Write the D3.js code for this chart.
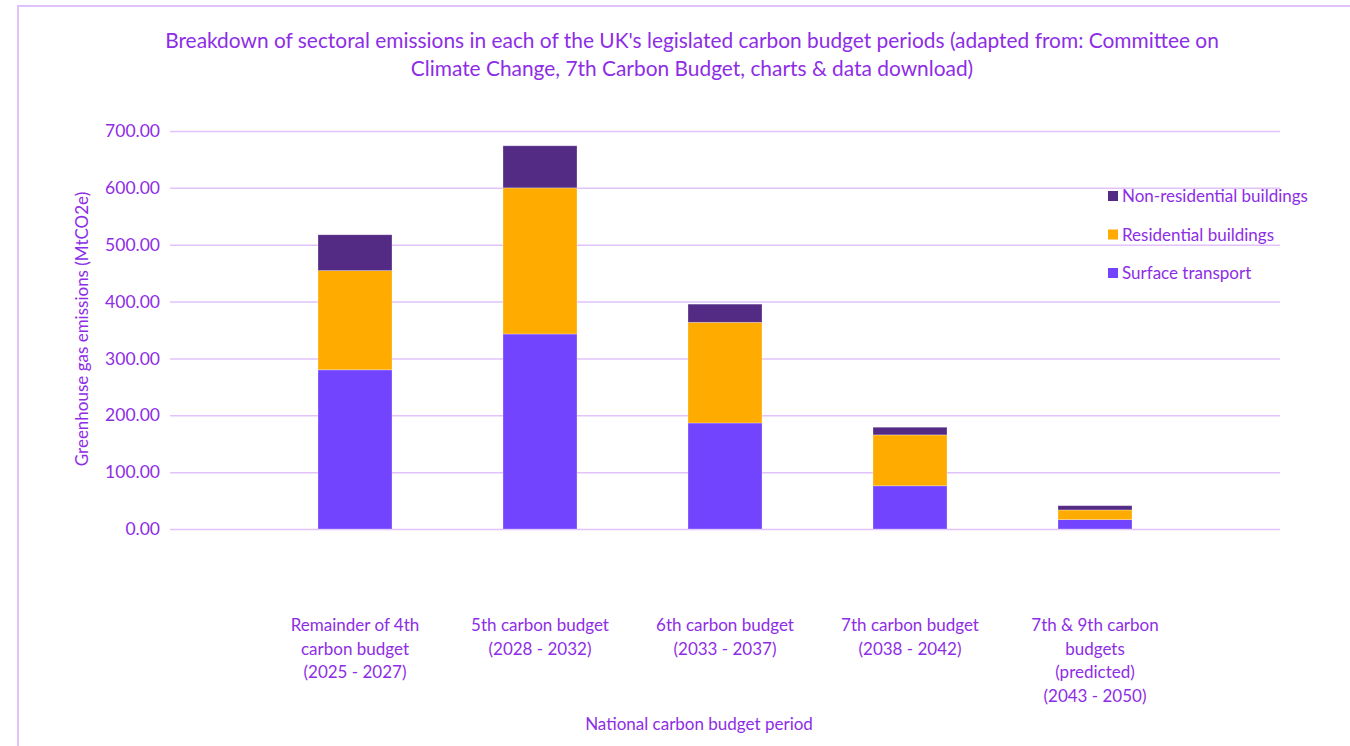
<!DOCTYPE html>
<html>
<head>
<meta charset="utf-8">
<script src="https://cdn.jsdelivr.net/npm/d3@7"></script>
<style>
  html, body { margin: 0; padding: 0; background: #ffffff; }
  svg { display: block; font-family: Lato, "Open Sans", sans-serif; }
</style>
</head>
<body>
<svg id="chart" width="1350" height="746"></svg>
<script>
// Budget periods (multi-line labels)
const periods = [
  ["Remainder of 4th", "carbon budget", "(2025 - 2027)"],
  ["5th carbon budget", "(2028 - 2032)"],
  ["6th carbon budget", "(2033 - 2037)"],
  ["7th carbon budget", "(2038 - 2042)"],
  ["7th & 9th carbon", "budgets", "(predicted)", "(2043 - 2050)"]
];
// Sector emissions per period, MtCO2e
const surfaceTransport = [280, 343, 186.5, 76, 16.5];
const residentialBuildings = [174.5, 257, 177, 89.5, 17];
const nonResidentialBuildings = [63, 74, 32, 13.5, 7.5];
const seriesNames = ["Surface transport", "Residential buildings", "Non-residential buildings"];
const yTicks = [0, 100, 200, 300, 400, 500, 600, 700];

const colors = {
  "Surface transport": "#7244fe",
  "Residential buildings": "#ffab00",
  "Non-residential buildings": "#532a84"
};
const textColor = "#8e2de6";
const gridColor = "#e1c2fb";

const svg = d3.select("#chart");

// outer frame
svg.append("path")
  .attr("d", "M18,746 V6 H1350")
  .attr("fill", "none")
  .attr("stroke", gridColor)
  .attr("stroke-width", 2);

const margin = { left: 170, right: 1280, top: 131, bottom: 529 };
const keys = periods.map((p, i) => i);

const x = d3.scalePoint().domain(keys).range([margin.left, margin.right]).padding(1);
const y = d3.scaleLinear().domain([0, 700]).range([margin.bottom, margin.top]);
const barWidth = x.step() * 0.4;

// gridlines + tick labels
const yAxis = d3.axisLeft(y).tickValues(yTicks).tickFormat(d3.format(".2f"))
  .tickSize(-(margin.right - margin.left)).tickPadding(10);
const gy = svg.append("g").attr("transform", `translate(${margin.left},0)`).call(yAxis);
gy.select(".domain").remove();
gy.selectAll(".tick line").attr("stroke", gridColor).attr("stroke-width", 1.5);
gy.selectAll(".tick text").attr("fill", textColor).attr("font-size", 17.5)
  .attr("font-family", "Lato, sans-serif");

// stacked bars
const rows = keys.map(i => ({
  i,
  "Surface transport": surfaceTransport[i],
  "Residential buildings": residentialBuildings[i],
  "Non-residential buildings": nonResidentialBuildings[i]
}));
const stacked = d3.stack().keys(seriesNames)(rows);

svg.append("g").selectAll("g").data(stacked).join("g")
  .attr("fill", d => colors[d.key])
  .selectAll("rect").data(d => d).join("rect")
  .attr("x", d => x(d.data.i) - barWidth / 2)
  .attr("y", d => y(d[1]))
  .attr("width", barWidth)
  .attr("height", d => y(d[0]) - y(d[1]))
  .attr("stroke", "#ffffff")
  .attr("stroke-opacity", 0.35)
  .attr("stroke-width", 0.8);

// category labels
const cat = svg.append("g").attr("fill", textColor).attr("font-size", 17)
  .attr("text-anchor", "middle");
periods.forEach((lines, i) => {
  const t = cat.append("text").attr("x", x(i)).attr("y", 631);
  lines.forEach((ln, j) => {
    t.append("tspan").attr("x", x(i)).attr("dy", j === 0 ? 0 : 23.5).text(ln);
  });
});

// x-axis title
svg.append("text").attr("x", 699).attr("y", 730).attr("text-anchor", "middle")
  .attr("fill", textColor).attr("font-size", 17).text("National carbon budget period");

// y-axis title
svg.append("text")
  .attr("transform", "translate(88,329) rotate(-90)")
  .attr("text-anchor", "middle").attr("fill", textColor).attr("font-size", 17)
  .text("Greenhouse gas emissions (MtCO2e)");

// chart title
const title = svg.append("text").attr("text-anchor", "middle").attr("fill", textColor)
  .attr("font-size", 20.9);
title.append("tspan").attr("x", 692).attr("y", 48)
  .text("Breakdown of sectoral emissions in each of the UK's legislated carbon budget periods (adapted from: Committee on");
title.append("tspan").attr("x", 692).attr("y", 76)
  .text("Climate Change, 7th Carbon Budget, charts & data download)");

// legend (top entry = top of stack)
const legendItems = seriesNames.slice().reverse();
const lg = svg.append("g");
legendItems.forEach((name, k) => {
  const yy = 196 + k * 38.5;
  lg.append("rect").attr("x", 1108).attr("y", yy - 5).attr("width", 10).attr("height", 10)
    .attr("fill", colors[name]);
  lg.append("text").attr("x", 1122).attr("y", yy + 6).attr("fill", textColor)
    .attr("font-size", 17).text(name);
});
</script>
</body>
</html>
